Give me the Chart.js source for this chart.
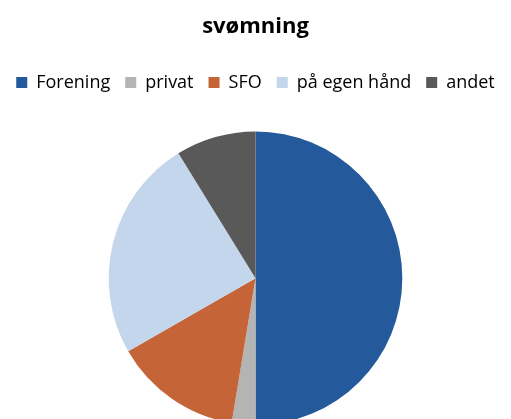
<!DOCTYPE html>
<html>
<head>
<meta charset="utf-8">
<script src="https://cdn.jsdelivr.net/npm/chart.js@4/dist/chart.umd.min.js"></script>
<style>
html,body{margin:0;padding:0;background:#fff;overflow:hidden;}
#wrap{width:511px;height:419px;position:relative;overflow:hidden;}
</style>
</head>
<body>
<div id="wrap"><canvas id="c" width="511" height="425"></canvas></div>
<script>
const chartTitle = "svømning";
const categories = ["Forening", "privat", "SFO", "på egen hånd", "andet"];
const values = [50, 2.6, 14.1, 24.5, 8.8];
const colors = ["#245A9C", "#B4B4B4", "#C56436", "#C4D6EC", "#595959"];

const legendGap = {
  id: 'legendGap',
  beforeInit(chart) {
    const origFit = chart.legend.fit;
    chart.legend.fit = function () {
      origFit.call(this);
      this.height += 30;
    };
  }
};

new Chart(document.getElementById('c'), {
  type: 'pie',
  data: {
    labels: categories,
    datasets: [{
      data: values,
      backgroundColor: colors,
      borderWidth: 0
    }]
  },
  plugins: [legendGap],
  options: {
    responsive: false,
    animation: false,
    layout: { padding: 0 },
    plugins: {
      title: {
        display: true,
        text: chartTitle,
        color: '#000',
        font: { family: '"Open Sans", sans-serif', size: 22, weight: 'bold' },
        padding: { top: 14, bottom: 18 }
      },
      legend: {
        display: true,
        position: 'top',
        labels: {
          color: '#000',
          boxWidth: 11,
          boxHeight: 11,
          padding: 15,
          font: { family: '"Open Sans", sans-serif', size: 18 }
        }
      },
      tooltip: { enabled: false }
    }
  }
});
</script>
</body>
</html>
